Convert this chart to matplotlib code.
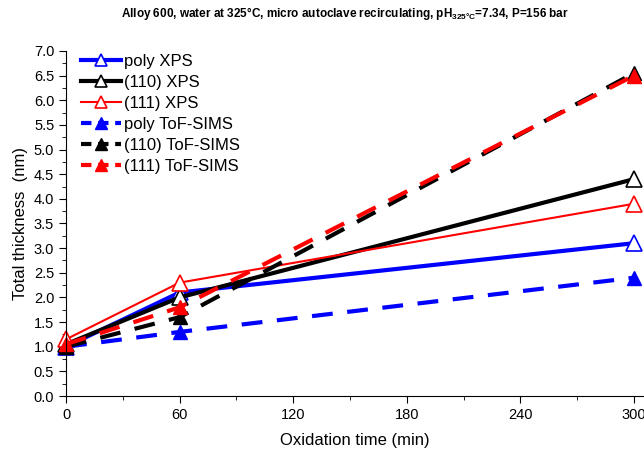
import numpy as np
import matplotlib.pyplot as plt
from matplotlib.ticker import MultipleLocator

plt.rcParams['font.family'] = ['Liberation Sans', 'DejaVu Sans']

time = [0, 60, 300]
poly_xps = [1.0, 2.1, 3.1]
xps_110 = [1.05, 2.0, 4.4]
xps_111 = [1.15, 2.3, 3.9]
poly_tof = [1.0, 1.3, 2.4]
tof_110 = [1.0, 1.6, 6.55]
tof_111 = [1.05, 1.8, 6.5]

fig = plt.figure(figsize=(6.44, 4.5), dpi=100)
ax = fig.add_axes([0.1025, 0.12, 1 - 0.1025, 0.7667])

ax.plot(time, poly_xps, '-', color='blue', lw=3, marker='^', ms=11,
        mfc='white', mec='blue', mew=1.2, label='poly XPS', clip_on=False)
ax.plot(time, xps_110, '-', color='black', lw=3, marker='^', ms=11,
        mfc='white', mec='black', mew=1.2, label='(110) XPS', clip_on=False)
ax.plot(time, xps_111, '-', color='red', lw=1.5, marker='^', ms=11,
        mfc='white', mec='red', mew=1.2, label='(111) XPS', clip_on=False)
ax.plot(time, poly_tof, '--', color='blue', lw=3, marker='^', ms=10,
        mfc='blue', mec='blue', label='poly ToF-SIMS', clip_on=False, dashes=(5, 3.5))
ax.plot(time, tof_110, '--', color='black', lw=3, marker='^', ms=10,
        mfc='black', mec='black', label='(110) ToF-SIMS', clip_on=False, dashes=(5, 3.5))
ax.plot(time, tof_111, '--', color='red', lw=3, marker='^', ms=10,
        mfc='red', mec='red', label='(111) ToF-SIMS', clip_on=False, dashes=(5, 3.5))

ax.set_xlim(0, 305.3)
ax.set_ylim(0, 7.0)
ax.xaxis.set_major_locator(MultipleLocator(60))
ax.xaxis.set_minor_locator(MultipleLocator(30))
ax.yaxis.set_major_locator(MultipleLocator(0.5))
ax.yaxis.set_minor_locator(MultipleLocator(0.25))
ax.yaxis.set_major_formatter(plt.FormatStrFormatter('%.1f'))
ax.spines['top'].set_visible(False)
ax.spines['right'].set_visible(False)
ax.tick_params(which='major', length=5, labelsize=10.5)
ax.tick_params(which='minor', length=3)

ax.set_xlabel('Oxidation time (min)', fontsize=12, labelpad=8)
ax.set_ylabel('Total thickness  (nm)', fontsize=12)

fig.text(0.535, 0.97, r'Alloy 600, water at 325°C, micro autoclave recirculating, pH$_{\mathregular{325°C}}$=7.34, P=156 bar',
         ha='center', va='center', fontsize=8.5, fontweight='bold')

leg = ax.legend(loc='upper left', frameon=False, fontsize=12, handlelength=2.4,
                labelspacing=0.36, handletextpad=0.2, borderaxespad=0.3,
                bbox_to_anchor=(0.005, 1.025), markerscale=0.85)
for line in leg.get_lines()[3:]:
    line.set_dashes((2.5, 1.6))

fig.savefig('out.png', dpi=100)
